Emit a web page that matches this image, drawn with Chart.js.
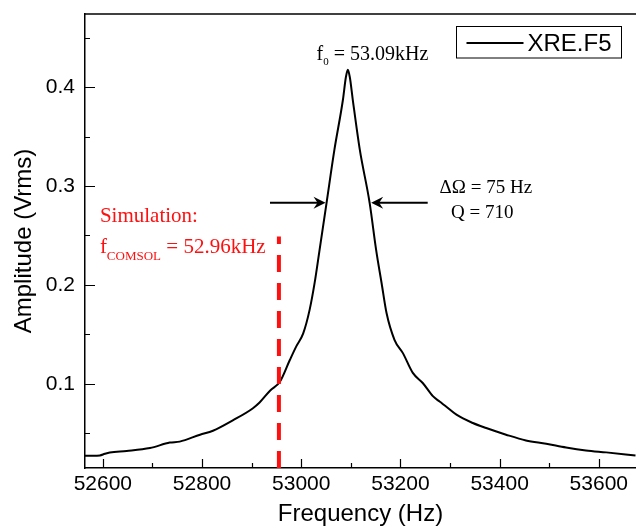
<!DOCTYPE html>
<html>
<head>
<meta charset="utf-8">
<script src="https://cdn.jsdelivr.net/npm/chart.js@4.4.0/dist/chart.umd.min.js"></script>
<style>
	html, body { margin: 0; padding: 0; background: #fff; }
</style>
</head>
<body>
<canvas id="chart" width="636" height="529"></canvas>
<script>
// Data
const freqs = [
	52564, 52580, 52594, 52604, 52614, 52648, 52695, 52735, 52755, 52796, 52822,
	52862, 52902, 52916, 52937, 52957, 52977, 52990, 53004, 53017, 53027,
	53037, 53051, 53067, 53084, 53090, 53094, 53098, 53104, 53118, 53138,
	53151, 53162, 53172, 53188, 53205, 53225, 53245, 53266, 53279, 53292,
	53313, 53346, 53373, 53413, 53453, 53494, 53534, 53574, 53615, 53674
];
const amplitude = [
	0.0272, 0.0272, 0.0275, 0.0292, 0.0305, 0.0320, 0.0350, 0.0405, 0.0415, 0.0485, 0.0525,
	0.0630, 0.0750, 0.0810, 0.0930, 0.1020, 0.1240, 0.1378, 0.1510, 0.1750, 0.2020,
	0.2355, 0.2828, 0.3370, 0.3870, 0.4100, 0.4175, 0.4100, 0.3870, 0.3370, 0.2828,
	0.2355, 0.2019, 0.1715, 0.1445, 0.1310, 0.1110, 0.1008, 0.0872, 0.0820, 0.0770,
	0.0687, 0.0603, 0.0552, 0.0485, 0.0427, 0.0394, 0.0356, 0.0326, 0.0306, 0.0275
];
const simFreq = 52955;
const simTop = 0.249;

const xTicks = [52600, 52800, 53000, 53200, 53400, 53600];
const xMinor = [52700, 52900, 53100, 53300, 53500];
const yTicks = [0.1, 0.2, 0.3, 0.4];
const yMinor = [0.05, 0.15, 0.25, 0.35, 0.45];

const xMin = 52564, xMax = 53675;
const yMin = 0.0148, yMax = 0.474;

const RED = "#ff1010";
const SERIF = "'Liberation Serif', 'DejaVu Serif', serif";
const SANS = "'Liberation Sans', Arial, sans-serif";

// draws frame, inward ticks, arrows, notes and legend
const decorations = {
	id: "decorations",
	afterDraw(chart) {
		const { ctx, chartArea: a, scales: { x, y } } = chart;
		ctx.save();
		ctx.strokeStyle = "#000";
		ctx.lineWidth = 1.5;

		// top border
		ctx.beginPath();
		ctx.moveTo(a.left, a.top);
		ctx.lineTo(a.right, a.top);
		ctx.stroke();

		// inward ticks
		ctx.lineWidth = 1.2;
		ctx.beginPath();
		xTicks.forEach((v) => {
			const px = Math.round(x.getPixelForValue(v)) + 0.5;
			ctx.moveTo(px, a.bottom);
			ctx.lineTo(px, a.bottom - 9);
		});
		xMinor.forEach((v) => {
			const px = Math.round(x.getPixelForValue(v)) + 0.5;
			ctx.moveTo(px, a.bottom);
			ctx.lineTo(px, a.bottom - 5);
		});
		yTicks.forEach((v) => {
			const py = Math.round(y.getPixelForValue(v)) + 0.5;
			ctx.moveTo(a.left, py);
			ctx.lineTo(a.left + 10, py);
		});
		yMinor.forEach((v) => {
			const py = Math.round(y.getPixelForValue(v)) + 0.5;
			ctx.moveTo(a.left, py);
			ctx.lineTo(a.left + 5, py);
		});
		ctx.stroke();

		// width arrows
		function arrow(f1, f2, amp) {
			const x1 = x.getPixelForValue(f1);
			const x2 = x.getPixelForValue(f2);
			const py = y.getPixelForValue(amp);
			const dir = Math.sign(x2 - x1);
			ctx.lineWidth = 2;
			ctx.beginPath();
			ctx.moveTo(x1, py);
			ctx.lineTo(x2 - dir * 4, py);
			ctx.stroke();
			ctx.beginPath();
			ctx.moveTo(x2, py);
			ctx.lineTo(x2 - dir * 12, py - 6);
			ctx.lineTo(x2 - dir * 8, py);
			ctx.lineTo(x2 - dir * 12, py + 6);
			ctx.closePath();
			ctx.fillStyle = "#000";
			ctx.fill();
		}
		arrow(52937, 53049, 0.283);
		arrow(53255, 53141, 0.283);

		// text notes with subscripts
		function note(parts, f, amp, color) {
			let px = x.getPixelForValue(f);
			const py = y.getPixelForValue(amp);
			ctx.fillStyle = color;
			ctx.textBaseline = "alphabetic";
			ctx.textAlign = "left";
			parts.forEach(([txt, size, dy]) => {
				ctx.font = size + "px " + SERIF;
				ctx.fillText(txt, px, py + dy);
				px += ctx.measureText(txt).width;
			});
		}
		note([["f", 20, 0], ["0", 11, 5], [" = 53.09kHz", 20, 0]], 53031, 0.4277, "#000");
		note([["\u0394\u03A9 = 75 Hz", 19, 0]], 53279, 0.293, "#000");
		note([["Q = 710", 19, 0]], 53302, 0.268, "#000");
		note([["Simulation:", 21, 0]], 52594, 0.264, RED);
		note([["f", 21, 0], ["COMSOL", 13, 7], [" = 52.96kHz", 21, 0]], 52594, 0.2325, RED);

		// legend box
		const ds = chart.data.datasets[1];
		const lx = a.right - 179.5, ly = a.top + 12.5;
		ctx.lineWidth = 1;
		ctx.strokeStyle = "#000";
		ctx.strokeRect(lx, ly, 165, 31.5);
		ctx.lineWidth = 2;
		ctx.strokeStyle = ds.borderColor;
		ctx.beginPath();
		ctx.moveTo(lx + 10, ly + 16.5);
		ctx.lineTo(lx + 67, ly + 16.5);
		ctx.stroke();
		ctx.fillStyle = "#000";
		ctx.font = "24px " + SANS;
		ctx.textBaseline = "alphabetic";
		ctx.fillText(ds.label, lx + 71, ly + 24.5);

		ctx.restore();
	},
};

const ctx = document.getElementById("chart").getContext("2d");
const chart = new Chart(ctx, {
	type: "line",
	data: {
		datasets: [
			{
				label: "Simulation",
				data: [
					{ x: simFreq, y: yMin },
					{ x: simFreq, y: simTop },
				],
				borderColor: RED,
				borderWidth: 4,
				borderDash: [17, 11],
				pointRadius: 0,
				order: 0,
			},
			{
				label: "XRE.F5",
				data: freqs.map((f, i) => ({ x: f, y: amplitude[i] })),
				borderColor: "#000",
				borderWidth: 2,
				pointRadius: 0,
				cubicInterpolationMode: "monotone",
				order: 1,
			},
		],
	},
	options: {
		responsive: false,
		animation: false,
		devicePixelRatio: 1,
		layout: { padding: { top: 14, right: 0, left: 0, bottom: 0 } },
		plugins: {
			legend: { display: false },
			tooltip: { enabled: false },
		},
		scales: {
			x: {
				type: "linear",
				min: xMin,
				max: xMax,
				afterBuildTicks: (s) => {
					s.ticks = xTicks.map((v) => ({ value: v }));
				},
				afterFit: (s) => {
					s.height = 61;
					s.paddingLeft = 0;
					s.paddingRight = 0;
				},
				grid: { display: false, drawTicks: false },
				border: { display: true, color: "#000", width: 1.5 },
				ticks: {
					color: "#000",
					font: { family: SANS, size: 21 },
					padding: 4,
					maxRotation: 0,
					callback: (v) => String(v),
				},
				title: {
					display: true,
					text: "Frequency (Hz)",
					color: "#000",
					font: { family: SANS, size: 24 },
					padding: { top: 0, bottom: 0 },
				},
			},
			y: {
				type: "linear",
				min: yMin,
				max: yMax,
				afterBuildTicks: (s) => {
					s.ticks = yTicks.map((v) => ({ value: v }));
				},
				afterFit: (s) => {
					s.width = 85;
					s.paddingTop = 0;
					s.paddingBottom = 0;
				},
				grid: { display: false, drawTicks: false },
				border: { display: true, color: "#000", width: 1.5 },
				ticks: {
					color: "#000",
					font: { family: SANS, size: 21 },
					padding: 10,
					callback: (v) => v.toFixed(1),
				},
				title: {
					display: true,
					text: "Amplitude (Vrms)",
					color: "#000",
					font: { family: SANS, size: 24 },
					padding: { top: 10, bottom: 0 },
				},
			},
		},
	},
	plugins: [decorations],
});
</script>
</body>
</html>
